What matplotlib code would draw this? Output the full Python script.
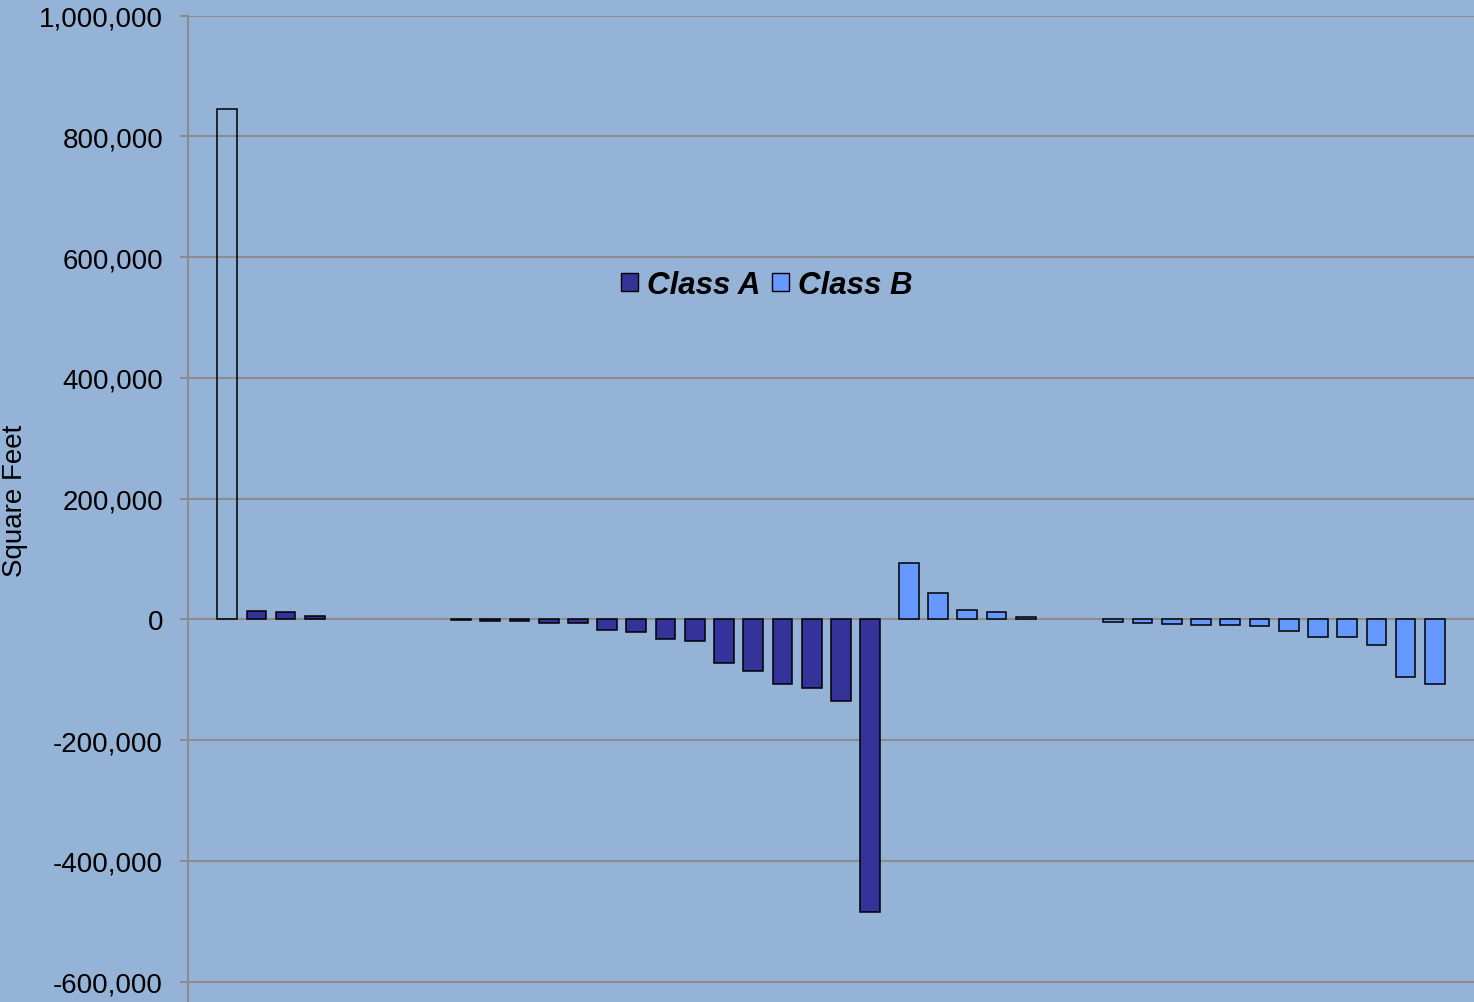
import numpy as np
import matplotlib
matplotlib.use("Agg")
import matplotlib.pyplot as plt
from matplotlib.patches import Patch
from matplotlib.ticker import FuncFormatter

plt.rcParams['font.family'] = ['Liberation Sans', 'DejaVu Sans']

# One value per category slot; None marks a slot with no bar for that series.
class_a = [None, 845000, 13600, 11800, 6000, None, None, None, None,
           -1500, -3500, -3500, -6600, -6600, -17000, -21700, -32700, -36600,
           -73000, -85000, -107000, -113500, -134600, -485000] + [None] * 20
class_b = [None] * 24 + [92700, 43000, 15000, 11600, 3300, None, None,
                         -4000, -6000, -8300, -8800, -10000, -10500,
                         -19400, -29300, -29800, -42000, -95000, -106600, None]
series_names = ["Class A", "Class B"]
y_ticks = [-600000, -400000, -200000, 0, 200000, 400000, 600000, 800000, 1000000]

BG = "#95B3D7"
COL_A = "#333399"
COL_B = "#6699FF"
GRID = "#8C8C8C"

a_vals = np.array([np.nan if v is None else v for v in class_a], dtype=float)
b_vals = np.array([np.nan if v is None else v for v in class_b], dtype=float)
x = np.arange(len(class_a))

fig = plt.figure(figsize=(14.74, 10.03), dpi=100, facecolor=BG)
ax = fig.add_axes([188 / 1474, 0.0, 1 - 188 / 1474, 1 - 16.6 / 1003])
ax.set_facecolor(BG)

width = 0.675
offset = 0.16
mask_a = ~np.isnan(a_vals)
mask_b = ~np.isnan(b_vals)
bars_a = ax.bar(x[mask_a] - offset, a_vals[mask_a], width=width, color=COL_A,
                edgecolor="black", linewidth=1.1, zorder=3)
# the leading total bar is drawn as an outline only
bars_a[0].set_facecolor("none")
ax.bar(x[mask_b] + offset, b_vals[mask_b], width=width, color=COL_B,
       edgecolor="black", linewidth=1.1, zorder=3)

ax.set_xlim(-0.5, len(class_a) - 0.5)
px_per_unit = (982 - 16.6) / 1600000
ax.set_ylim(-600000 - 20.4 / px_per_unit, 1000000)
ax.set_yticks(y_ticks)
ax.yaxis.set_major_formatter(FuncFormatter(lambda v, p: f"{int(v):,}"))
ax.set_xticks([])

ax.grid(axis="y", color=GRID, linewidth=1.5, zorder=1)
for s in ["top", "right", "bottom"]:
    ax.spines[s].set_visible(False)
ax.spines["left"].set_color(GRID)
ax.spines["left"].set_linewidth(1.5)
ax.tick_params(axis="y", colors=GRID, length=6, width=1.5, pad=12,
               labelsize=20, labelcolor="black")

fig.text(15 / 1474, 1 - 501 / 1003, "Square Feet", rotation=90,
         ha="center", va="center", fontsize=20)

handles = [Patch(facecolor=COL_A, edgecolor="black", linewidth=1.0),
           Patch(facecolor=COL_B, edgecolor="black", linewidth=1.0)]
leg = ax.legend(handles, series_names, ncol=2, frameon=False,
                loc="center", bbox_to_anchor=(0.450, (1003 - 286) / 986.4),
                prop={"weight": "bold", "style": "italic", "size": 22.5},
                handlelength=0.55, handleheight=0.55, handletextpad=0.3,
                columnspacing=0.35, borderaxespad=0)

fig.savefig("out.png", dpi=100, facecolor=BG)
